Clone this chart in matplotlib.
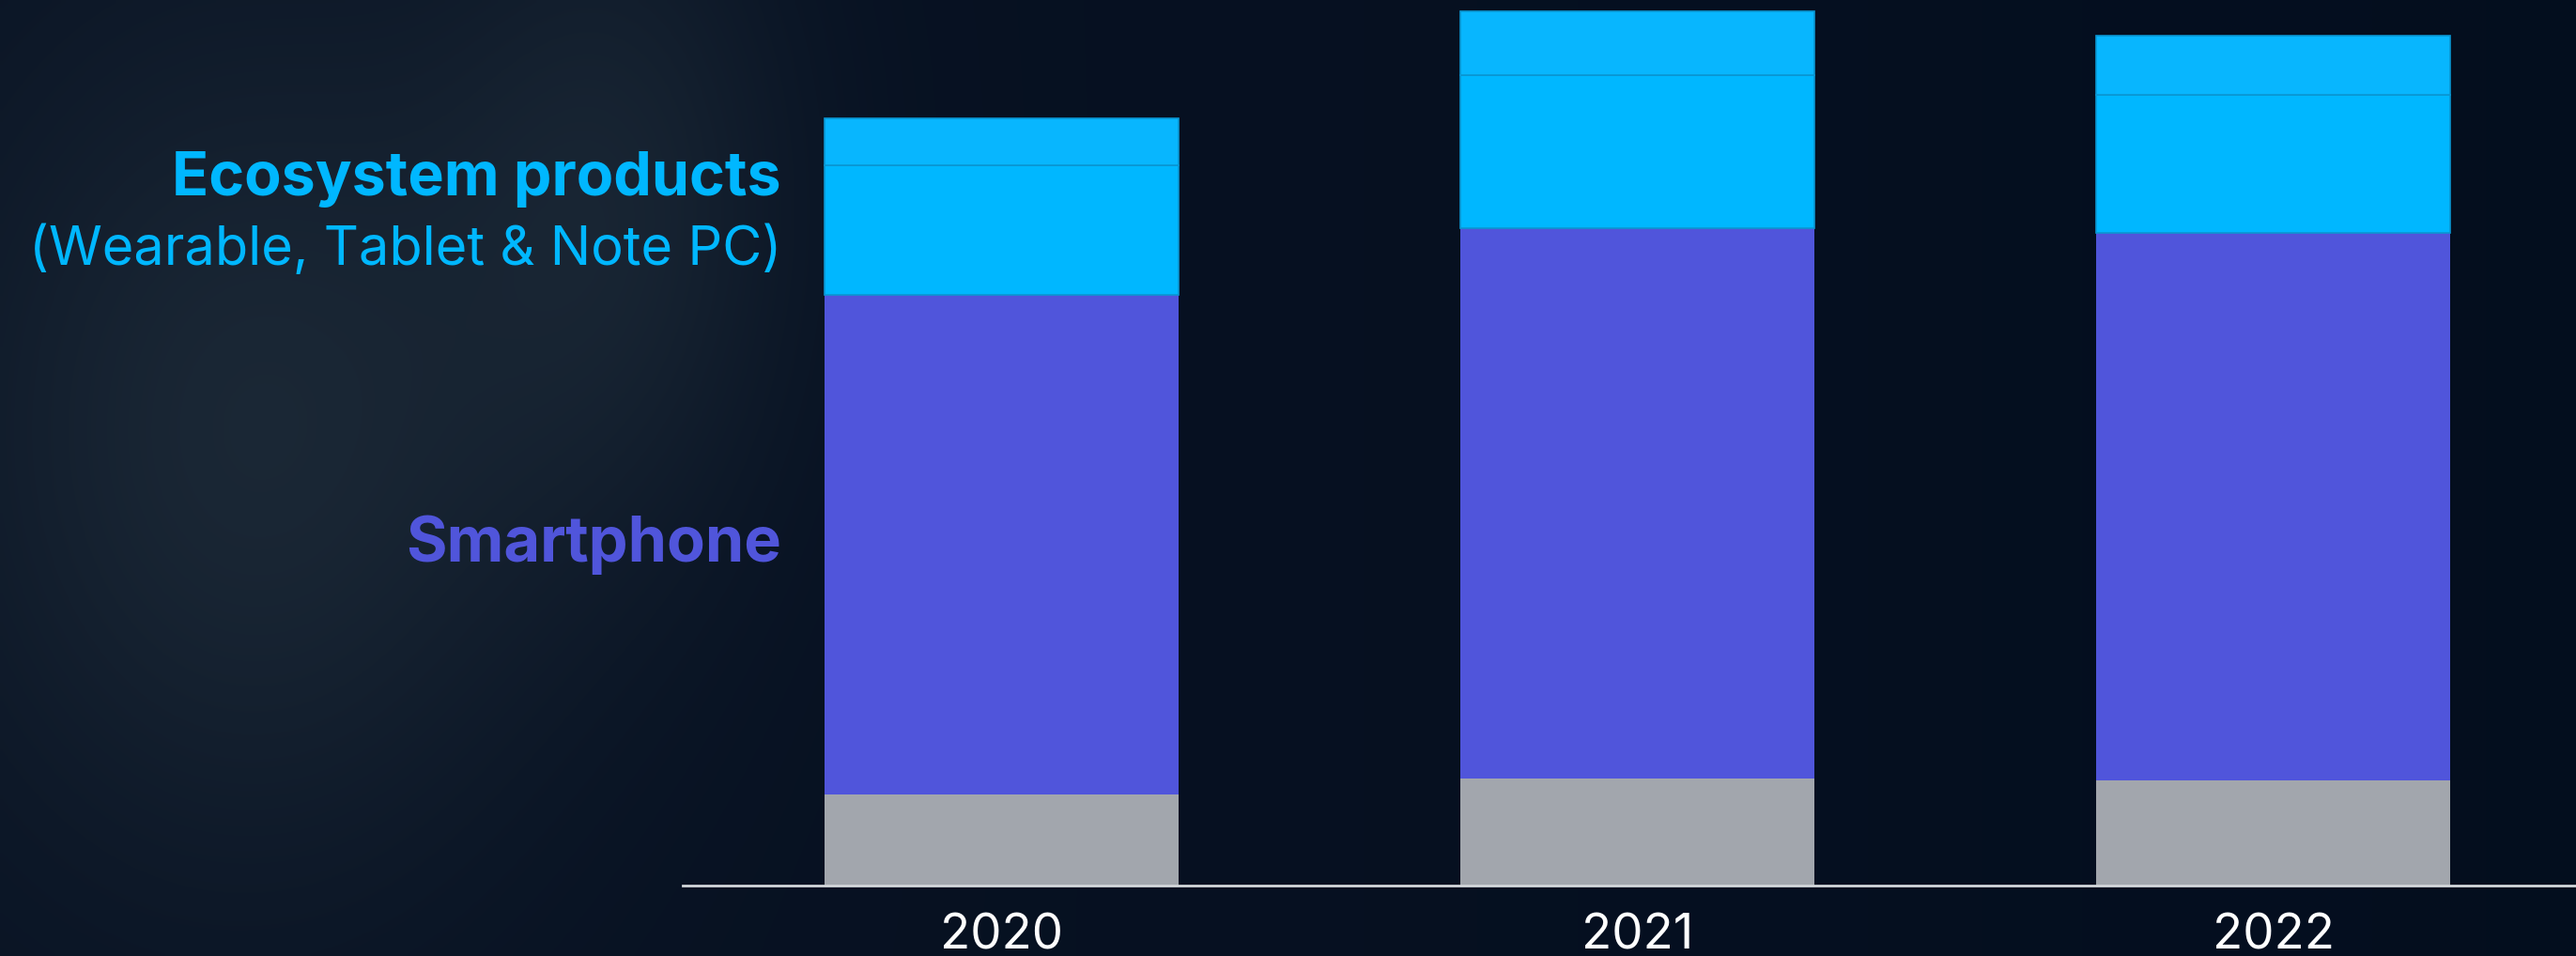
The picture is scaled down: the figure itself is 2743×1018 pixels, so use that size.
import numpy as np
import matplotlib.pyplot as plt

# Data (heights, arbitrary units)
years = ["2020", "2021", "2022"]
others = [97, 114, 112]
smartphone = [532, 586, 583]
ecosystem_main = [138, 163, 147]
ecosystem_top = [50, 68, 63]

plt.rcParams["font.family"] = ["Inter", "DejaVu Sans"]

W, H, DPI = 2743, 1018, 100
fig = plt.figure(figsize=(W / DPI, H / DPI), dpi=DPI)

# dark night-sky background with a faint glow on the left
bg = fig.add_axes([0, 0, 1, 1], zorder=-10)
yy, xx = np.mgrid[0:1:200j, 0:1:540j]
base = np.array([0.035, 0.075, 0.14])
glow = np.exp(-(((xx - 0.10) / 0.12) ** 2 + ((yy - 0.45) / 0.45) ** 2))
glow2 = np.exp(-(((xx - 0.24) / 0.07) ** 2 + ((yy - 0.20) / 0.35) ** 2))
img = base[None, None, :] + 0.07 * glow[..., None] * np.array([1.0, 1.15, 1.0]) \
    + 0.05 * glow2[..., None] * np.array([1.0, 1.15, 1.0])
img = img - 0.02 * xx[..., None]
bg.imshow(np.clip(img, 0, 1), aspect="auto", extent=[0, 1, 0, 1], interpolation="bilinear")
bg.axis("off")

ax = fig.add_axes([727 / W, 75 / H, (W - 727) / W, 943 / H])
ax.patch.set_alpha(0)

x = np.arange(len(years))
width = 0.557
b1 = np.array(others)
b2 = b1 + np.array(smartphone)
b3 = b2 + np.array(ecosystem_main)

ax.bar(x, others, width, color="#A2A6AD", linewidth=0)
ax.bar(x, smartphone, width, bottom=b1, color="#5055DB", linewidth=0)
ax.bar(x, ecosystem_main, width, bottom=b2, color="#00B7FF",
       edgecolor="#0A96D2", linewidth=1.2)
ax.bar(x, ecosystem_top, width, bottom=b3, color="#08B6FE",
       edgecolor="#0A96D2", linewidth=1.2)

ax.set_xlim(-0.501, 2.476)
ax.set_ylim(0, 943)
for s in ["top", "right", "left"]:
    ax.spines[s].set_visible(False)
ax.spines["bottom"].set_color("#D3D6DA")
ax.spines["bottom"].set_linewidth(2)
ax.set_yticks([])
ax.set_xticks(x, years)
ax.tick_params(axis="x", length=0, pad=21, labelsize=38, labelcolor="white")

# category labels on the left
fig.text(832 / W, 1 - 208 / H, "Ecosystem products", ha="right", va="baseline",
         fontsize=46.5, fontweight="bold", color="#00B7FF")
fig.text(832 / W, 1 - 282 / H, "(Wearable, Tablet & Note PC)", ha="right",
         va="baseline", fontsize=41.5, color="#00B7FF")
fig.text(832 / W, 1 - 598 / H, "Smartphone", ha="right", va="baseline",
         fontsize=48, fontweight="bold", color="#5055DB")

fig.savefig("out.png", dpi=DPI)
